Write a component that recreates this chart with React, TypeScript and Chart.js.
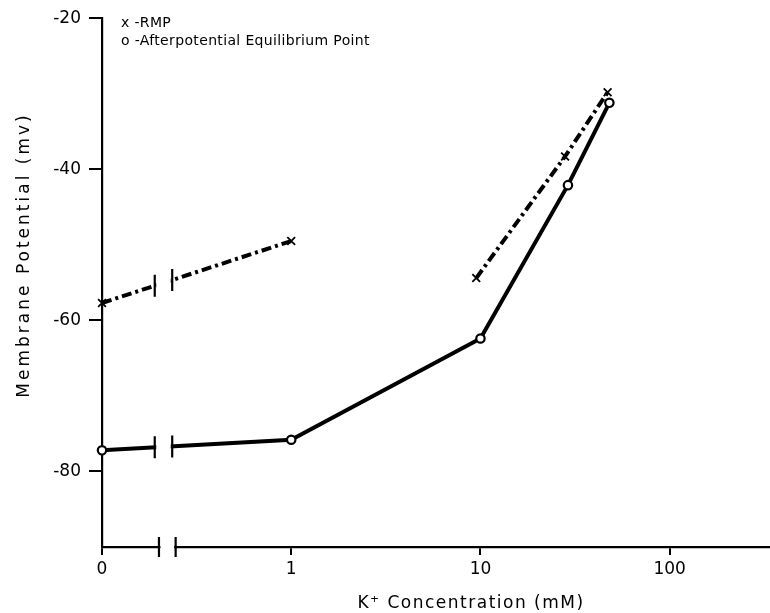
import React, { useEffect, useRef } from "react";
import { Chart, registerables } from "chart.js";

Chart.register(...registerables);

// Afterpotential equilibrium point (o)
const apepConc = [0, 1, 10, 29, 48];
const apepMv = [-77.2, -75.8, -62.4, -42.1, -31.2];
// Resting membrane potential (x), two separate runs
const rmpLowConc = [0, 1];
const rmpLowMv = [-57.7, -49.5];
const rmpHighConc = [9.5, 28, 47];
const rmpHighMv = [-54.4, -38.3, -29.8];

const xTickValues = [0, 1, 10, 100];
const xTickLabels = ["0", "1", "10", "100"];
const yTickValues = [-80, -60, -40, -20];
const legendLines = ["x -RMP", "o -Afterpotential Equilibrium Point"];
const xTitle = "K\u207A Concentration (mM)";
const yTitle = "Membrane Potential (mv)";

const ZERO_POS = 0.1; // 0 mM drawn one decade below 1 mM (axis is broken)
const AXIS_BREAK = [0.2, 0.245];
const LINE_BREAK = [0.19, 0.235];
const FONT = '"DejaVu Sans", sans-serif';

const toX = (c: number) => (c === 0 ? ZERO_POS : c);
const pts = (xs: number[], ys: number[]) => xs.map((c, i) => ({ x: toX(c), y: ys[i] }));

const breakPlugin = {
  id: "breaks",
  afterDatasetsDraw(chart: any) {
    const ctx = chart.ctx;
    const xs = chart.scales.x;
    const xa = xs.getPixelForValue(LINE_BREAK[0]);
    const xb = xs.getPixelForValue(LINE_BREAK[1]);
    [0, 1].forEach((di) => {
      const meta = chart.getDatasetMeta(di);
      const p0 = meta.data[0];
      const p1 = meta.data[1];
      const yAt = (x: number) => p0.y + ((p1.y - p0.y) * (x - p0.x)) / (p1.x - p0.x);
      ctx.save();
      ctx.fillStyle = "#fff";
      ctx.fillRect(xa + 1.5, Math.min(yAt(xa), yAt(xb)) - 6, xb - xa - 3, Math.abs(yAt(xa) - yAt(xb)) + 12);
      ctx.strokeStyle = "#000";
      ctx.lineWidth = 2.2;
      ctx.beginPath();
      ctx.moveTo(xa, yAt(xa) - 11);
      ctx.lineTo(xa, yAt(xa) + 11);
      ctx.moveTo(xb, yAt(xb) - 11);
      ctx.lineTo(xb, yAt(xb) + 11);
      ctx.stroke();
      ctx.restore();
    });
  },
  afterDraw(chart: any) {
    const ctx = chart.ctx;
    const xs = chart.scales.x;
    const area = chart.chartArea;
    const xa = xs.getPixelForValue(AXIS_BREAK[0]);
    const xb = xs.getPixelForValue(AXIS_BREAK[1]);
    const y = area.bottom;
    ctx.save();
    ctx.fillStyle = "#fff";
    ctx.fillRect(xa + 1.5, y - 3, xb - xa - 3, 6);
    ctx.strokeStyle = "#000";
    ctx.lineWidth = 2.2;
    ctx.beginPath();
    ctx.moveTo(xa, y - 10);
    ctx.lineTo(xa, y + 10);
    ctx.moveTo(xb, y - 10);
    ctx.lineTo(xb, y + 10);
    ctx.stroke();

    // legend text
    ctx.fillStyle = "#000";
    ctx.textAlign = "left";
    ctx.textBaseline = "alphabetic";
    ctx.font = `14px ${FONT}`;
    (ctx as any).letterSpacing = "0.35px";
    ctx.fillText(legendLines[0], 121, 27);
    ctx.fillText(legendLines[1], 121, 45);

    // axis titles
    ctx.textAlign = "center";
    ctx.textBaseline = "middle";
    ctx.font = `17px ${FONT}`;
    (ctx as any).letterSpacing = "1.5px";
    ctx.fillText(xTitle, 471, 604);
    ctx.translate(25, 255);
    ctx.rotate(-Math.PI / 2);
    (ctx as any).letterSpacing = "3px";
    ctx.fillText(yTitle, 0, 0);
    ctx.restore();
  },
};

export default function App() {
  const ref = useRef<HTMLCanvasElement>(null);
  useEffect(() => {
    document.body.style.margin = "0";
    const chart = new Chart(ref.current as HTMLCanvasElement, {
      type: "line",
      data: {
        datasets: [
          {
            label: "RMP",
            data: pts(rmpLowConc, rmpLowMv),
            borderColor: "#000",
            borderWidth: 4,
            borderDash: [10, 4, 3, 4],
            pointStyle: "crossRot",
            pointRadius: 5.5,
            pointBorderWidth: 1.8,
            pointBorderColor: "#000",
            clip: false,
          },
          {
            label: "Afterpotential Equilibrium Point",
            data: pts(apepConc, apepMv),
            borderColor: "#000",
            borderWidth: 4,
            pointStyle: "circle",
            pointRadius: 4.2,
            pointBorderWidth: 2.2,
            pointBorderColor: "#000",
            pointBackgroundColor: "#fff",
            clip: false,
          },
          {
            label: "RMP high",
            data: pts(rmpHighConc, rmpHighMv),
            borderColor: "#000",
            borderWidth: 4,
            borderDash: [10, 4, 3, 4],
            pointStyle: "crossRot",
            pointRadius: 5.5,
            pointBorderWidth: 1.8,
            pointBorderColor: "#000",
            clip: false,
          },
        ],
      },
      options: {
        responsive: false,
        animation: false,
        devicePixelRatio: 1,
        layout: { autoPadding: false, padding: { top: 15, right: 0, left: 0, bottom: 0 } },
        plugins: { legend: { display: false }, tooltip: { enabled: false } },
        scales: {
          x: {
            type: "logarithmic",
            min: ZERO_POS,
            max: 339,
            afterBuildTicks: (s: any) => {
              s.ticks = xTickValues.map((v) => ({ value: toX(v) }));
            },
            afterFit: (s: any) => {
              s.height = 66;
              s.paddingLeft = 0;
              s.paddingRight = 0;
            },
            ticks: {
              color: "#000",
              font: { family: FONT, size: 17 },
              padding: 4,
              maxRotation: 0,
              autoSkip: false,
              callback: (_v: any, i: number) => xTickLabels[i],
            },
            grid: { drawOnChartArea: false, drawTicks: true, tickLength: 8, color: "#000", lineWidth: 2 },
            border: { display: true, color: "#000", width: 2.2 },
          },
          y: {
            type: "linear",
            min: -90,
            max: -20,
            afterBuildTicks: (s: any) => {
              s.ticks = yTickValues.map((v) => ({ value: v }));
            },
            afterFit: (s: any) => {
              s.width = 102;
            },
            ticks: {
              color: "#000",
              font: { family: FONT, size: 17 },
              padding: 8,
              autoSkip: false,
              callback: (v: any) => String(v),
            },
            grid: { drawOnChartArea: false, drawTicks: true, tickLength: 13, color: "#000", lineWidth: 2 },
            border: { display: true, color: "#000", width: 2.2 },
          },
        },
      },
      plugins: [breakPlugin],
    } as any);
    return () => chart.destroy();
  }, []);
  return (
    <div style={{ position: "fixed", left: 0, top: 0, width: 770, height: 613 }}>
      <canvas ref={ref} width={770} height={613} style={{ width: 770, height: 613 }} />
    </div>
  );
}
